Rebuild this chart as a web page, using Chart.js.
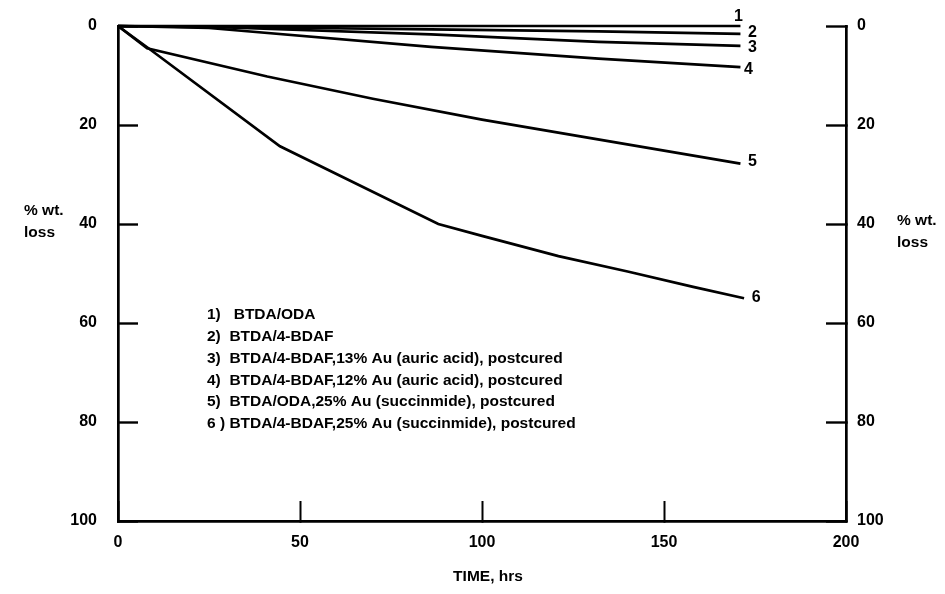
<!DOCTYPE html>
<html>
<head>
<meta charset="utf-8">
<script src="https://cdn.jsdelivr.net/npm/chart.js@4"></script>
<style>
  html, body { margin: 0; padding: 0; background: #fff; }
  #wrap { width: 945px; height: 594px; }
</style>
</head>
<body>
<div id="wrap"><canvas id="chart" width="945" height="594"></canvas></div>
<script>
// hours / % weight loss
const series1 = [[0, 0], [60, 0], [171, 0]];
const series2 = [[0, 0], [40, 0.3], [86, 0.7], [132, 1.1], [171, 1.6]];
const series3 = [[0, 0], [30, 0.3], [86, 1.7], [132, 3.2], [171, 4.0]];
const series4 = [[0, 0], [25, 0.4], [86, 4.2], [132, 6.6], [171, 8.3]];
const series5 = [[0, 0], [8, 4.5], [41, 10.2], [70, 14.7], [100, 18.9], [127, 22.3], [171, 27.8]];
const series6 = [[0, 0], [8, 4.3], [44.5, 24.3], [88, 40], [100, 42.4], [121, 46.5], [140, 49.6], [158, 52.7], [172, 55]];

const endLabels = ['1', '2', '3', '4', '5', '6'];
const legendLines = [
  '1)   BTDA/ODA',
  '2)  BTDA/4-BDAF',
  '3)  BTDA/4-BDAF,13% Au (auric acid), postcured',
  '4)  BTDA/4-BDAF,12% Au (auric acid), postcured',
  '5)  BTDA/ODA,25% Au (succinmide), postcured',
  '6 ) BTDA/4-BDAF,25% Au (succinmide), postcured'
];
const yTitle = ['% wt.', 'loss'];
const xTitle = 'TIME, hrs';

const FONT = '"Liberation Sans", Arial, Helvetica, sans-serif';
const allSeries = [series1, series2, series3, series4, series5, series6];

// offsets of the 1..6 tags from each line end
const tagOffsets = [[-2, -9], [12, -1], [12, 2], [8, 3], [12, -2], [12, -1]];

const annotate = {
  id: 'annotate',
  afterDraw(chart) {
    const ctx = chart.ctx;
    const x = chart.scales.x, y = chart.scales.y;
    ctx.save();
    ctx.fillStyle = '#000';
    ctx.font = 'bold 16px ' + FONT;
    ctx.textBaseline = 'middle';

    // series tags
    ctx.textAlign = 'center';
    allSeries.forEach((s, i) => {
      const last = s[s.length - 1];
      const px = x.getPixelForValue(last[0]) + tagOffsets[i][0];
      const py = y.getPixelForValue(last[1]) + tagOffsets[i][1];
      ctx.fillText(endLabels[i], px, py);
    });

    // legend block
    ctx.font = 'bold 15.5px ' + FONT;
    ctx.textAlign = 'left';
    legendLines.forEach((t, i) => ctx.fillText(t, 207, 315 + i * 21.8));

    // axis titles (horizontal, both sides)
    yTitle.forEach((t, i) => ctx.fillText(t, 24, 211 + i * 22));
    yTitle.forEach((t, i) => ctx.fillText(t, 897, 221 + i * 22));

    ctx.textAlign = 'center';
    ctx.fillText(xTitle, 488, 577);
    ctx.restore();
  }
};

const tickFont = { family: FONT, size: 16, weight: 'bold' };

// fixed box sizes so the plot area lands where the original's does
function fixSize(prop, v) {
  return s => {
    s[prop] = v;
    s.paddingTop = 0; s.paddingBottom = 0; s.paddingLeft = 0; s.paddingRight = 0;
  };
}

new Chart(document.getElementById('chart'), {
  type: 'scatter',
  data: {
    datasets: allSeries.map((s, i) => ({
      label: endLabels[i],
      data: s.map(p => ({ x: p[0], y: p[1] })),
      showLine: true,
      clip: false,
      borderColor: '#000',
      backgroundColor: '#000',
      borderWidth: 2.7,
      pointRadius: 0,
      tension: 0
    }))
  },
  options: {
    responsive: false,
    animation: false,
    layout: { padding: { top: 26, left: 0, right: 0, bottom: 0 } },
    plugins: { legend: { display: false }, tooltip: { enabled: false } },
    scales: {
      x: {
        type: 'linear',
        min: 0, max: 200,
        afterFit: fixSize('height', 73),
        ticks: { stepSize: 50, color: '#000', font: tickFont, padding: 32, maxRotation: 0 },
        grid: { drawOnChartArea: false, tickLength: -20, tickWidth: 2, color: '#000' },
        border: { display: true, color: '#000', width: 2.7 }
      },
      y: {
        type: 'linear',
        position: 'left',
        reverse: true,
        min: 0, max: 100,
        afterFit: fixSize('width', 118),
        ticks: { stepSize: 20, color: '#000', font: tickFont, padding: 41 },
        grid: { drawOnChartArea: false, tickLength: -20, tickWidth: 2.4, color: '#000' },
        border: { display: true, color: '#000', width: 2.7 }
      },
      y2: {
        type: 'linear',
        position: 'right',
        reverse: true,
        min: 0, max: 100,
        afterFit: fixSize('width', 99),
        ticks: { stepSize: 20, color: '#000', font: tickFont, padding: 31 },
        grid: { drawOnChartArea: false, tickLength: -20, tickWidth: 2.4, color: '#000' },
        border: { display: true, color: '#000', width: 2.7 }
      }
    }
  },
  plugins: [annotate]
});
</script>
</body>
</html>
